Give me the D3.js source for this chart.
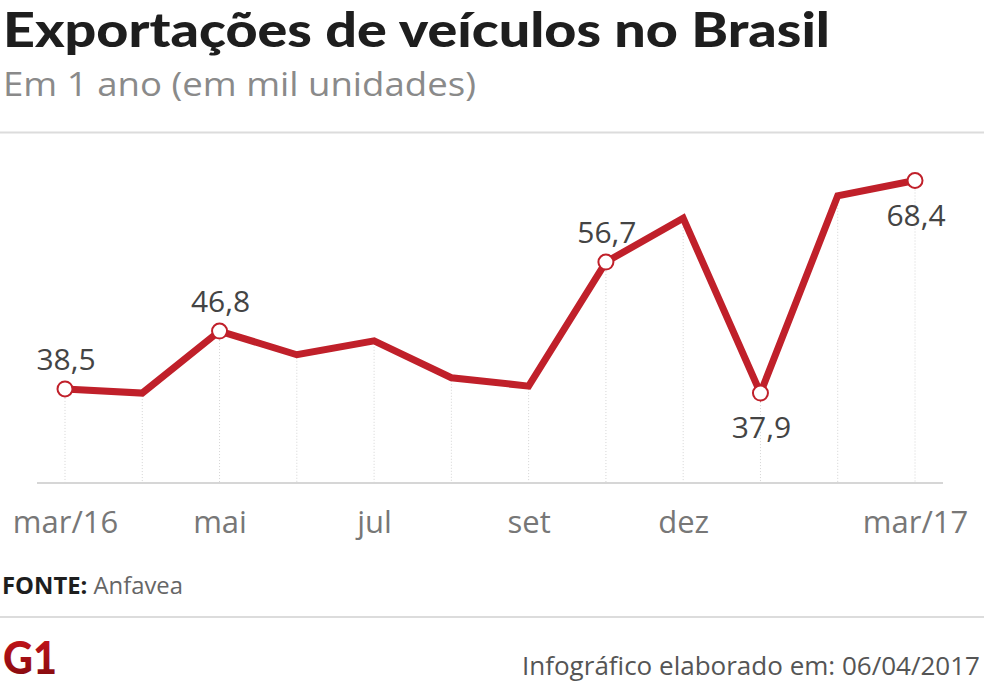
<!DOCTYPE html>
<html>
<head>
<meta charset="utf-8">
<script src="https://cdn.jsdelivr.net/npm/d3@7"></script>
<style>
  body { margin: 0; background: #fff; }
  svg { display: block; }
</style>
</head>
<body>
<div id="chart"></div>
<script>
// chart values
var months = ["mar/16", "abr", "mai", "jun", "jul", "ago", "set", "out", "dez", "jan", "fev", "mar/17"];
var exports = [38.5, 37.9, 46.8, 43.4, 45.4, 40.1, 38.9, 56.7, 63.0, 37.9, 66.2, 68.4];
var tickLabels = ["mar/16", "mai", "jul", "set", "dez", "mar/17"];
var labelled = ["mar/16", "mai", "out", "jan", "mar/17"];   // points with a value label
var labelBelow = ["jan", "mar/17"];

function init() {
    var w = 984, h = 683;
    var red = "#c0202a";

    var svg = d3.select("#chart").append("svg")
        .attr("width", w)
        .attr("height", h);

    // fit text to a target width (the original uses a condensed face)
    function fit(sel, width) {
        var len = sel.node().getComputedTextLength();
        if (Math.abs(len - width) > 2) {
            sel.attr("textLength", width).attr("lengthAdjust", "spacingAndGlyphs");
        }
    }

    // title
    var title = svg.append("text")
        .attr("x", 3).attr("y", 47)
        .style("font-family", "Lato").style("font-weight", 900)
        .style("font-size", "47px").attr("fill", "#1e1e1e")
        .text("Exportações de veículos no Brasil");
    fit(title, 827);

    var sub = svg.append("text")
        .attr("x", 3).attr("y", 96)
        .style("font-family", "Open Sans")
        .style("font-size", "33px").attr("fill", "#8a8a8a")
        .text("Em 1 ano (em mil unidades)");
    fit(sub, 473);

    // separators
    svg.append("line").attr("x1", 0).attr("x2", w).attr("y1", 132.5).attr("y2", 132.5)
        .attr("stroke", "#dcdcdc").attr("stroke-width", 2);
    svg.append("line").attr("x1", 0).attr("x2", w).attr("y1", 617).attr("y2", 617)
        .attr("stroke", "#dcdcdc").attr("stroke-width", 2);

    var xScale = d3.scalePoint()
        .domain(months)
        .range([65, 915]);

    var yScale = d3.scaleLinear()
        .domain([25, 75])
        .range([483, 134.5]);

    // drop lines from each point to the baseline
    svg.selectAll(".drop")
        .data(months)
        .enter()
        .append("line")
        .attr("class", "drop")
        .attr("x1", function(d) { return xScale(d); })
        .attr("x2", function(d) { return xScale(d); })
        .attr("y1", function(d, i) { return yScale(exports[i]); })
        .attr("y2", yScale(25))
        .attr("stroke", "#d4d4d4")
        .attr("stroke-width", 1)
        .attr("stroke-dasharray", "1,2");

    // baseline
    svg.append("line")
        .attr("x1", 37).attr("x2", 943)
        .attr("y1", yScale(25)).attr("y2", yScale(25))
        .attr("stroke", "#d6d6d6").attr("stroke-width", 2);

    // x axis labels
    var xAxis = d3.axisBottom(xScale)
        .tickValues(tickLabels)
        .tickSize(0)
        .tickPadding(0);

    var gx = svg.append("g")
        .attr("transform", "translate(0," + 511 + ")")
        .call(xAxis);
    gx.select(".domain").remove();
    gx.selectAll("text")
        .attr("dy", "0.71em")
        .style("font-family", "Open Sans")
        .style("font-size", "31px")
        .attr("fill", "#777");

    // line
    var line = d3.line()
        .x(function(d, i) { return xScale(months[i]); })
        .y(function(d) { return yScale(d); });

    svg.append("path")
        .datum(exports)
        .attr("d", line)
        .attr("fill", "none")
        .attr("stroke", red)
        .attr("stroke-width", 7)
        .attr("stroke-linejoin", "miter");

    // labelled points
    var marked = months.map(function(m, i) { return { m: m, v: exports[i] }; })
        .filter(function(d) { return labelled.indexOf(d.m) >= 0; });

    svg.selectAll(".dot")
        .data(marked)
        .enter()
        .append("circle")
        .attr("class", "dot")
        .attr("cx", function(d) { return xScale(d.m); })
        .attr("cy", function(d) { return yScale(d.v); })
        .attr("r", 7.5)
        .attr("fill", "#fff")
        .attr("stroke", red)
        .attr("stroke-width", 2);

    svg.selectAll(".val")
        .data(marked)
        .enter()
        .append("text")
        .attr("class", "val")
        .attr("x", function(d) { return xScale(d.m) + 1; })
        .attr("y", function(d) {
            return labelBelow.indexOf(d.m) >= 0 ? yScale(d.v) + 45 : yScale(d.v) - 19;
        })
        .attr("text-anchor", "middle")
        .style("font-family", "Open Sans")
        .style("font-size", "30px")
        .attr("fill", "#444")
        .text(function(d) { return d3.format(".1f")(d.v).replace(".", ","); });

    // source
    var src = svg.append("text")
        .attr("x", 2).attr("y", 594)
        .style("font-family", "Open Sans")
        .style("font-size", "23px");
    src.append("tspan").style("font-weight", 700).attr("fill", "#1e1e1e").text("FONTE: ");
    src.append("tspan").attr("fill", "#666").text("Anfavea");
    fit(src, 181);

    // G1 logo
    var grad = svg.append("defs").append("linearGradient")
        .attr("id", "g1grad").attr("x1", 0).attr("y1", 0).attr("x2", 0).attr("y2", 1);
    grad.append("stop").attr("offset", "0%").attr("stop-color", "#d0151c");
    grad.append("stop").attr("offset", "100%").attr("stop-color", "#7c0a0e");
    var logo = svg.append("text")
        .attr("x", 3).attr("y", 674)
        .style("font-family", "Lato").style("font-weight", 900)
        .style("font-size", "46px")
        .attr("fill", "url(#g1grad)")
        .text("G1");
    fit(logo, 54);

    var foot = svg.append("text")
        .attr("x", 980).attr("y", 675)
        .attr("text-anchor", "end")
        .style("font-family", "Open Sans")
        .style("font-size", "25px")
        .attr("fill", "#555")
        .text("Infográfico elaborado em: 06/04/2017");
    fit(foot, 458);
}

window.onload = init;
</script>
</body>
</html>
